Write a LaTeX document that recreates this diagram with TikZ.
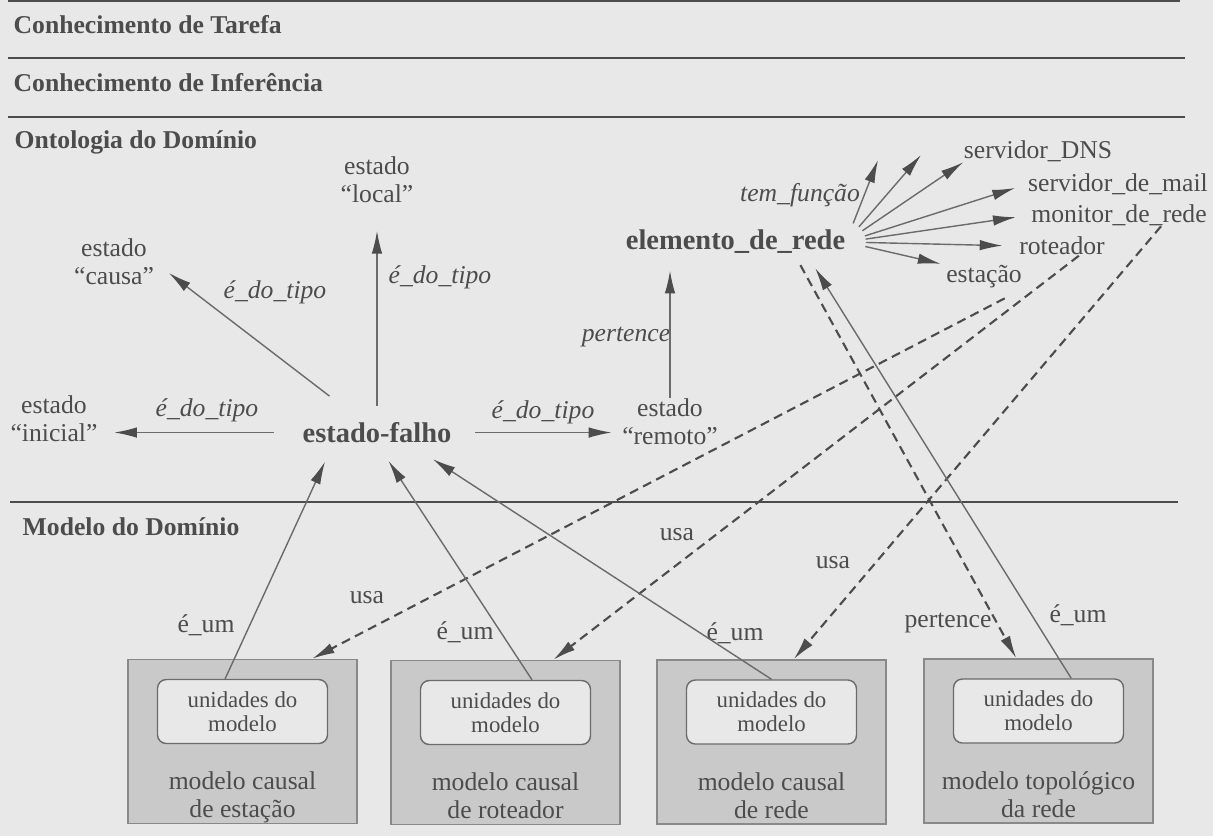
\documentclass[tikz,border=0pt]{standalone}
\usepackage{fontspec}
\setmainfont{Liberation Serif}
\usepackage{tikz}
\usetikzlibrary{positioning,arrows.meta,calc}

\definecolor{paper}{gray}{0.91}
\definecolor{ink}{gray}{0.30}
\definecolor{wire}{gray}{0.42}
\definecolor{boxfill}{gray}{0.79}

\begin{document}
\begin{tikzpicture}[x=1cm,y=1cm,
  layertitle/.style={anchor=base west,inner sep=0pt,text=ink,font=\fontsize{7.3}{8}\selectfont\bfseries},
  hrule/.style={draw=ink,line width=0.6pt},
  lbl/.style={inner sep=0pt,text=ink,align=center,font=\fontsize{7.3}{8}\selectfont},
  rel/.style={inner sep=0pt,text=ink,font=\fontsize{7.3}{8}\selectfont\itshape},
  cls/.style={inner sep=0pt,text=ink,font=\fontsize{8.1}{9}\selectfont\bfseries},
  arr/.style={draw=wire,line width=0.4pt,-{Latex[length=6.5pt,width=3pt,color=ink]}},
  usaline/.style={draw=ink,line width=0.6pt,dash pattern=on 2.6pt off 1.6pt,-{Latex[length=6.5pt,width=3pt,color=ink]}},
  modelbox/.style={draw=wire!80,fill=boxfill,minimum width=2.29cm,minimum height=1.64cm,inner sep=0pt},
  unitbox/.style={draw=wire,fill=paper,rounded corners=2.5pt,minimum width=1.70cm,minimum height=0.64cm,inner sep=0pt,align=center,text=ink,font=\fontsize{6.5}{6.8}\selectfont},
  boxname/.style={lbl,text depth=1.6pt},
]
\fill[paper] (0,0) rectangle (12.13,-8.36);
\useasboundingbox (0,0) rectangle (12.13,-8.36);

% knowledge layers
\draw[hrule] (0.08,-0.01) -- (11.80,-0.01);
\node[layertitle] (tarefa) at (0.13,-0.33) {Conhecimento de Tarefa};
\draw[hrule] (0.08,-0.58) -- (11.85,-0.58);
\node[layertitle] (inferencia) at (0.13,-0.91) {Conhecimento de Inferência};
\draw[hrule] (0.08,-1.17) -- (11.85,-1.17);
\node[layertitle] (ontologia) at (0.14,-1.48) {Ontologia do Domínio};
\draw[hrule] (0.10,-5.02) -- (11.78,-5.02);
\node[layertitle] (modelo) at (0.22,-5.35) {Modelo do Domínio};

% ontology: estado-falho and its types
\node[cls] (falho) at (3.77,-4.325) {estado-falho};
\node[lbl] (local) at (3.77,-1.80) {estado\\“local”};
\node[lbl] (causa) at (1.14,-2.62) {estado\\“causa”};
\node[lbl] (inicial) at (0.54,-4.19) {estado\\“inicial”};
\node[lbl] (remoto) at (6.70,-4.22) {estado\\“remoto”};
\node[rel] (tipolocal) at (4.40,-2.77) {é\_do\_tipo};
\node[rel] (tipocausa) at (2.75,-2.92) {é\_do\_tipo};
\node[rel] (tipoinicial) at (2.07,-4.10) {é\_do\_tipo};
\node[rel] (tiporemoto) at (5.43,-4.12) {é\_do\_tipo};

% ontology: elemento_de_rede and its functions
\node[cls] (elem) at (7.355,-2.42) {elemento\_de\_rede};
\node[rel] (pertremoto) at (6.26,-3.37) {pertence};
\node[rel] (temfuncao) at (8.00,-1.95) {tem\_função};
\node[lbl] (dns) at (10.38,-1.51) {servidor\_DNS};
\node[lbl] (mail) at (11.18,-1.84) {servidor\_de\_mail};
\node[lbl] (monitor) at (11.19,-2.15) {monitor\_de\_rede};
\node[lbl] (roteador) at (10.62,-2.46) {roteador};
\node[lbl] (estacao) at (9.84,-2.77) {estação};
\coordinate (fa) at (8.78,-1.60);
\coordinate (fb) at (9.21,-1.55);

% domain models
\node[modelbox] (m1) at (2.425,-7.415) {};
\node[modelbox] (m2) at (5.055,-7.425) {};
\node[modelbox] (m3) at (7.715,-7.42) {};
\node[modelbox] (m4) at (10.385,-7.41) {};
\node[unitbox,below=0.2cm of m1.north] (u1) {unidades do\\modelo};
\node[unitbox,below=0.2cm of m2.north] (u2) {unidades do\\modelo};
\node[unitbox,below=0.2cm of m3.north] (u3) {unidades do\\modelo};
\node[unitbox,below=0.2cm of m4.north] (u4) {unidades do\\modelo};
\node[boxname,above=0pt of m1.south] (t1) {modelo causal\\de estação};
\node[boxname,above=0pt of m2.south] (t2) {modelo causal\\de roteador};
\node[boxname,above=0pt of m3.south] (t3) {modelo causal\\de rede};
\node[boxname,above=0pt of m4.south] (t4) {modelo topológico\\da rede};
\node[lbl] (um1) at (2.06,-6.25) {é\_um};
\node[lbl] (um2) at (4.65,-6.32) {é\_um};
\node[lbl] (um3) at (7.35,-6.33) {é\_um};
\node[lbl] (um4) at (10.78,-6.15) {é\_um};
\node[lbl] (usa1) at (3.67,-5.98) {usa};
\node[lbl] (usa2) at (6.77,-5.35) {usa};
\node[lbl] (usa3) at (8.33,-5.63) {usa};
\node[lbl] (pertrede) at (9.48,-6.23) {pertence};

% é_do_tipo arrows
\draw[arr,shorten <=0.16cm,shorten >=0.27cm] (falho.north) -- (local.south);
\draw[arr,shorten <=0.42cm,shorten >=0.18cm] (falho) -- (causa.east);
\draw[arr,shorten <=0.28cm,shorten >=0.16cm] (falho.west) -- (falho.west -| inicial.east);
\draw[arr,shorten <=0.23cm,shorten >=0.10cm] (falho.east) -- (falho.east -| remoto.west);
\draw[arr,shorten >=0.16cm] (remoto.north) -- (remoto.north |- elem.south);

% tem_função fan
\draw[arr,shorten <=0.2cm] (elem.east) -- (fa);
\draw[arr,shorten <=0.2cm] (elem.east) -- (fb);
\draw[arr,shorten <=0.2cm] (elem.east) -- (dns.south west);
\draw[arr,shorten <=0.2cm,shorten >=0.13cm] (elem.east) -- (mail.west);
\draw[arr,shorten <=0.2cm,shorten >=0.15cm] (elem.east) -- (monitor.west);
\draw[arr,shorten <=0.2cm,shorten >=0.16cm] (elem.east) -- (roteador.west);
\draw[arr,shorten <=0.2cm,shorten >=0.05cm] (elem.east) -- (estacao.north west);

% usa / pertence (dashed)
\draw[usaline,shorten <=0.2cm] (estacao.south east) -- (m1.50);
\draw[usaline] (roteador.-30) -- (m2.60);
\draw[usaline] (monitor.-15) -- (m3.75);
\draw[usaline,shorten <=0.12cm] (elem.-12) -- (m4.105);

% é_um
\draw[arr,shorten >=0.2cm] (u1.118) -- (falho.194);
\draw[arr,shorten >=0.21cm] (u2.51) -- (falho.south);
\draw[arr,shorten >=0.29cm] (u3.north) -- (falho.-19);
\draw[arr,shorten >=0.16cm] (u4.45) -- (elem.-10);
\end{tikzpicture}
\end{document}
